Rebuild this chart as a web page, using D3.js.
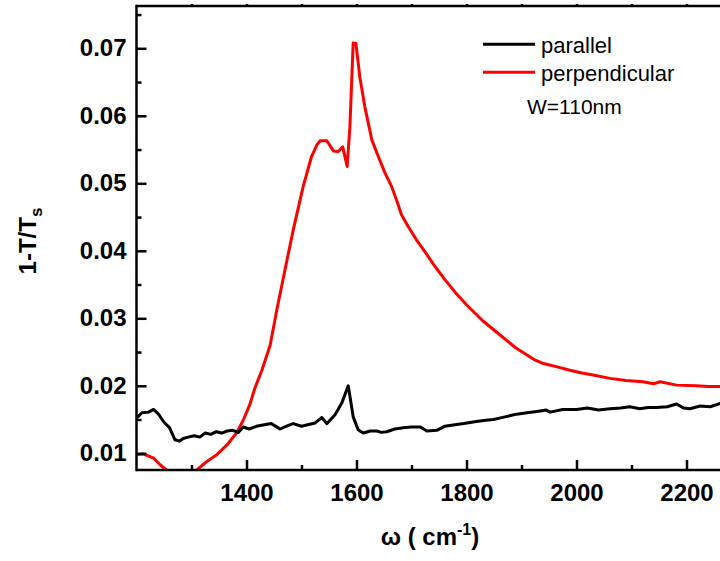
<!DOCTYPE html>
<html>
<head>
<meta charset="utf-8">
<script src="https://cdn.jsdelivr.net/npm/d3@7"></script>
<style>
  html, body { margin: 0; padding: 0; background: #fff; }
  svg { display: block; }
  text { font-family: "Liberation Sans", Arial, sans-serif; }
</style>
</head>
<body>
<svg id="chart" width="720" height="561"></svg>
<script>
// ---- data ----
const parallelOmega = [1200,1210,1222,1231,1240,1250,1260,1270,1278,1285,1294,1305,1315,1325,1335,1345,1355,1365,1375,1385,1394,1405,1418,1430,1445,1461,1475,1485,1500,1515,1525,1537,1546,1561,1573,1585,1594,1603,1612,1625,1637,1645,1655,1670,1685,1700,1716,1728,1746,1760,1776,1795,1818,1835,1849,1870,1891,1910,1928,1945,1952,1975,2000,2020,2040,2061,2080,2097,2115,2130,2146,2165,2182,2195,2206,2225,2243,2262];
const parallelValue = [0.0152,0.0160,0.0161,0.0165,0.0158,0.0146,0.0138,0.0120,0.0118,0.0122,0.0124,0.0126,0.0124,0.0130,0.0128,0.0132,0.0130,0.0133,0.0134,0.0131,0.0139,0.0136,0.0140,0.0142,0.0144,0.0136,0.0141,0.0144,0.0140,0.0143,0.0145,0.0153,0.0144,0.0157,0.0174,0.0200,0.0154,0.0135,0.0130,0.0133,0.0133,0.0131,0.0132,0.0136,0.0138,0.0139,0.0139,0.0133,0.0134,0.0140,0.0142,0.0144,0.0147,0.0149,0.0150,0.0154,0.0158,0.0160,0.0162,0.0164,0.0161,0.0165,0.0165,0.0167,0.0164,0.0166,0.0167,0.0169,0.0166,0.0168,0.0168,0.0169,0.0173,0.0167,0.0166,0.0170,0.0169,0.0174];

const perpOmega = [1200,1212,1222,1231,1243,1255,1270,1290,1309,1328,1346,1364,1382,1394,1406,1415,1428,1443,1455,1470,1485,1503,1518,1528,1534,1546,1558,1567,1575,1583,1588,1594,1599,1606,1615,1628,1640,1652,1664,1673,1682,1694,1710,1725,1740,1760,1780,1800,1830,1860,1890,1925,1940,1965,1988,2010,2030,2061,2090,2121,2140,2152,2182,2218,2240,2262];
const perpValue = [0.0098,0.0099,0.0096,0.0093,0.0083,0.0075,0.0068,0.0066,0.0075,0.0088,0.0098,0.0112,0.0130,0.0149,0.0172,0.0196,0.0223,0.0260,0.0312,0.0372,0.0431,0.0495,0.0539,0.0557,0.0563,0.0563,0.0548,0.0547,0.0554,0.0525,0.0584,0.0708,0.0707,0.0658,0.0614,0.0564,0.0539,0.0515,0.0495,0.0475,0.0453,0.0436,0.0415,0.0398,0.0380,0.0358,0.0338,0.0320,0.0296,0.0276,0.0256,0.0238,0.0233,0.0228,0.0223,0.0219,0.0216,0.0211,0.0208,0.0206,0.0203,0.0206,0.0201,0.0200,0.0199,0.0199];

const xMajorTicks = [1400,1600,1800,2000,2200];
const xMinorTicks = [1300,1500,1700,1900,2100];
const yMajorTicks = [0.01,0.02,0.03,0.04,0.05,0.06,0.07];
const yMinorTicks = [0.015,0.025,0.035,0.045,0.055,0.065,0.075];
const seriesNames = ["parallel","perpendicular"];
const seriesColors = ["#000000","#ff0000"];
const noteText = "W=110nm";

// ---- layout ----
const svg = d3.select("#chart");
const plotLeft = 136.5, plotTop = 6, plotBottom = 470;
const x = d3.scaleLinear().domain([1200, 2300]).range([plotLeft, plotLeft + 1100 * 0.55]);
const y = d3.scaleLinear().domain([0.01, 0.07]).range([453.3, 48.3]);
const plotRight = x(2300);

svg.append("defs").append("clipPath").attr("id","plotclip")
  .append("rect").attr("x", plotLeft).attr("y", plotTop).attr("width", plotRight - plotLeft).attr("height", plotBottom - plotTop);

// lines
const series = [
  {omega: parallelOmega, value: parallelValue},
  {omega: perpOmega, value: perpValue}
];
const line = d3.line().x(d => x(d[0])).y(d => y(d[1]));
const plot = svg.append("g").attr("clip-path","url(#plotclip)");
[1,0].forEach(i => {
  const pts = series[i].omega.map((o, k) => [o, series[i].value[k]]);
  plot.append("path").datum(pts)
    .attr("d", line)
    .attr("fill","none")
    .attr("stroke", seriesColors[i])
    .attr("stroke-width", 3)
    .attr("stroke-linejoin","round");
});

// axes
const axisStroke = 2.5;
const fmtY = d3.format(".2f");

const xAxis = svg.append("g").attr("transform", `translate(0,${plotBottom})`)
  .call(d3.axisBottom(x).tickValues(xMajorTicks).tickSizeInner(-10).tickSizeOuter(0).tickPadding(14).tickFormat(d3.format("d")));
const xMinor = svg.append("g").attr("transform", `translate(0,${plotBottom})`)
  .call(d3.axisBottom(x).tickValues(xMinorTicks).tickSizeInner(-5).tickSizeOuter(0).tickFormat(""));
const yAxis = svg.append("g").attr("transform", `translate(${plotLeft},0)`)
  .call(d3.axisLeft(y).tickValues(yMajorTicks).tickSizeInner(-10).tickSizeOuter(0).tickPadding(10).tickFormat(fmtY));
const yMinor = svg.append("g").attr("transform", `translate(${plotLeft},0)`)
  .call(d3.axisLeft(y).tickValues(yMinorTicks).tickSizeInner(-5).tickSizeOuter(0).tickFormat(""));
const topAxis = svg.append("g").attr("transform", `translate(0,${plotTop})`)
  .call(d3.axisTop(x).tickValues(xMajorTicks.concat(xMinorTicks)).tickSizeInner(2).tickSizeOuter(0).tickFormat(""));

[xAxis, xMinor, yAxis, yMinor, topAxis].forEach(g => {
  g.selectAll(".domain").remove();
  g.selectAll(".tick line").attr("stroke","#000").attr("stroke-width", axisStroke);
  g.selectAll(".tick text").attr("fill","#000")
    .style("font-family","'Liberation Sans', Arial, sans-serif")
    .style("font-size","24px").style("font-weight","bold");
});
svg.append("line").attr("x1", plotLeft).attr("x2", plotLeft).attr("y1", plotTop - 1.25).attr("y2", plotBottom + 1.25)
  .attr("stroke","#000").attr("stroke-width", axisStroke);
svg.append("line").attr("x1", plotLeft).attr("x2", plotRight).attr("y1", plotBottom).attr("y2", plotBottom)
  .attr("stroke","#000").attr("stroke-width", axisStroke);
svg.append("line").attr("x1", plotLeft).attr("x2", plotRight).attr("y1", plotTop).attr("y2", plotTop)
  .attr("stroke","#000").attr("stroke-width", axisStroke);

// axis titles
const yTitle = svg.append("text")
  .attr("transform", "translate(36,241) rotate(-90)")
  .attr("text-anchor","middle")
  .style("font-size","24px").style("font-weight","bold").attr("fill","#000");
yTitle.append("tspan").text("1-T/T");
yTitle.append("tspan").attr("dy", 6).style("font-size","17px").text("s");

const xTitle = svg.append("text")
  .attr("x", 430).attr("y", 545)
  .attr("text-anchor","middle")
  .style("font-size","24px").style("font-weight","bold").attr("fill","#000");
xTitle.append("tspan").text("ω ( cm");
xTitle.append("tspan").attr("dy", -10).style("font-size","16px").text("-1");
xTitle.append("tspan").attr("dy", 10).text(")");

// legend
const legY = [44.3, 72.3];
seriesNames.forEach((name, i) => {
  svg.append("line").attr("x1", 483).attr("x2", 535).attr("y1", legY[i]).attr("y2", legY[i])
    .attr("stroke", seriesColors[i]).attr("stroke-width", 3);
  svg.append("text").attr("x", 541).attr("y", legY[i] + 8.5)
    .style("font-size","22px").attr("fill","#000").text(name);
});
svg.append("text").attr("x", 527).attr("y", 114)
  .style("font-size","21px").attr("fill","#000").text(noteText);
</script>
</body>
</html>
